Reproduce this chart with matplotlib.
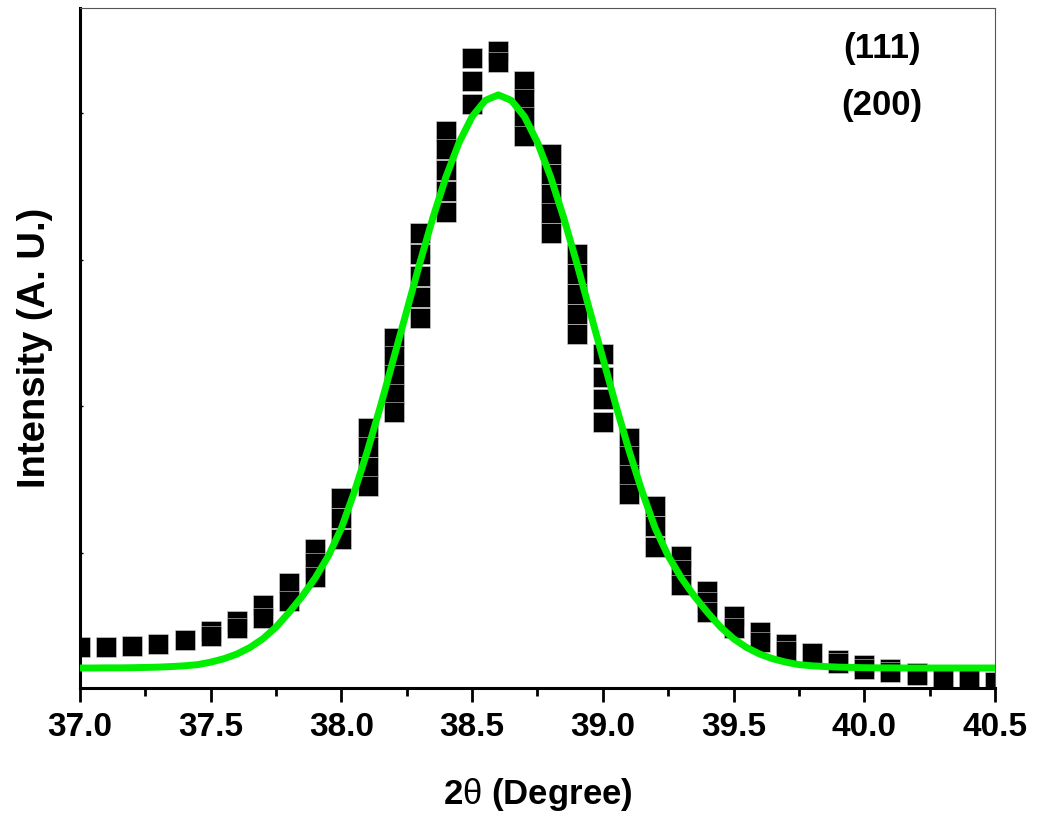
import matplotlib
matplotlib.use('Agg')
from matplotlib import pyplot as plt
from matplotlib.ticker import MultipleLocator, FormatStrFormatter
import numpy as np

plt.rcParams['font.family'] = ['Liberation Sans', 'DejaVu Sans']
plt.rcParams['font.weight'] = 'bold'
plt.rcParams['mathtext.fontset'] = 'custom'
plt.rcParams['mathtext.rm'] = 'Liberation Sans:normal'

# observed points (several per column where the scan is steep)
obs_2theta = [37.0, 37.1, 37.2, 37.3, 37.4,
              37.5, 37.5, 37.6, 37.6, 37.7, 37.7, 37.8, 37.8,
              37.9, 37.9, 37.9, 38.0, 38.0, 38.0,
              38.1, 38.1, 38.1, 38.1,
              38.2, 38.2, 38.2, 38.2, 38.2,
              38.3, 38.3, 38.3, 38.3, 38.3,
              38.4, 38.4, 38.4, 38.4, 38.4,
              38.5, 38.5, 38.5, 38.6, 38.6,
              38.7, 38.7, 38.7, 38.7,
              38.8, 38.8, 38.8, 38.8, 38.8,
              38.9, 38.9, 38.9, 38.9, 38.9,
              39.0, 39.0, 39.0, 39.0,
              39.1, 39.1, 39.1, 39.1,
              39.2, 39.2, 39.2, 39.3, 39.3, 39.3, 39.4, 39.4, 39.4,
              39.5, 39.5, 39.6, 39.6, 39.7, 39.7, 39.8,
              39.9, 39.9, 40.0, 40.0, 40.1, 40.1, 40.2, 40.2,
              40.3, 40.3, 40.4, 40.4, 40.5]
obs_counts = [358, 358, 365, 379, 406,
              468, 433, 536, 488, 645, 556, 795, 672,
              1027, 932, 836, 1375, 1239, 1096,
              1853, 1724, 1587, 1457,
              2468, 2345, 2215, 2085, 1963,
              3184, 3041, 2891, 2748, 2604,
              3881, 3758, 3614, 3471, 3328,
              4379, 4222, 4065, 4427, 4352,
              4222, 4099, 3976, 3846,
              3724, 3587, 3451, 3321, 3184,
              3041, 2904, 2768, 2632, 2495,
              2358, 2201, 2051, 1894,
              1785, 1662, 1532, 1402,
              1321, 1184, 1041, 980, 884, 782, 741, 666, 597,
              570, 488, 461, 392, 379, 331, 317,
              270, 249, 235, 208, 208, 188, 181, 167,
              154, 147, 140, 133, 119]

# fitted profile
fit_2theta = np.round(np.arange(37.0, 40.5001, 0.05), 2)
fit_counts = [215, 215, 216, 216, 217, 219, 221, 225, 230, 238,
              255, 278, 310, 355, 415, 495, 595, 705, 830, 980,
              1170, 1420, 1700, 2006, 2330, 2654, 2980, 3289, 3568, 3802,
              3979, 4089, 4127,
              4089, 3979, 3802, 3568, 3289, 2980, 2654, 2330, 2006, 1700,
              1420, 1170, 980, 830, 705, 595, 495, 415, 355, 310,
              278, 255, 238, 230, 225, 221, 219, 217, 216, 216,
              215, 215, 215, 215, 215, 215, 215, 215]

legend_labels = ['(111)', '(200)']

fig = plt.figure(figsize=(10.42, 8.18), dpi=100)
ax = fig.add_axes([80 / 1042, 130 / 818, 915 / 1042, 680 / 818])

ax.plot(obs_2theta, obs_counts, 's', color='black', ms=14.4,
        mec='#d8d8d8', mew=0.4, zorder=2)
ax.plot(fit_2theta, fit_counts, '-', color='#00ee00', lw=5, zorder=3)

ax.set_xlim(37.0, 40.5)
ax.set_ylim(78.5, 4720)

ax.xaxis.set_major_locator(MultipleLocator(0.5))
ax.xaxis.set_minor_locator(MultipleLocator(0.25))
ax.xaxis.set_major_formatter(FormatStrFormatter('%.1f'))
ax.tick_params(axis='x', which='major', direction='out', length=10, width=2,
               labelsize=24, pad=7)
ax.tick_params(axis='x', which='minor', direction='out', length=6, width=2)
ax.set_yticks([1000, 2000, 3000, 4000])
ax.set_yticklabels([])
ax.tick_params(axis='y', direction='in', length=2, width=1)
ax.tick_params(axis='both', top=False, right=False)

for s in ['left', 'bottom']:
    ax.spines[s].set_linewidth(2.2)
for s in ['top', 'right']:
    ax.spines[s].set_linewidth(0.8)
    ax.spines[s].set_color('#555555')

ax.set_xlabel(r'2$\mathrm{\theta}$ (Degree)', fontsize=25, fontweight='bold',
              labelpad=24)
ax.set_ylabel('Intensity (A. U.)', fontsize=27.5, fontweight='bold', labelpad=16)

ax.text(0.8765, 0.941, legend_labels[0], transform=ax.transAxes,
        ha='center', va='center', fontsize=25, fontweight='bold')
ax.text(0.8765, 0.857, legend_labels[1], transform=ax.transAxes,
        ha='center', va='center', fontsize=25, fontweight='bold')

fig.savefig('out.png', dpi=100)
